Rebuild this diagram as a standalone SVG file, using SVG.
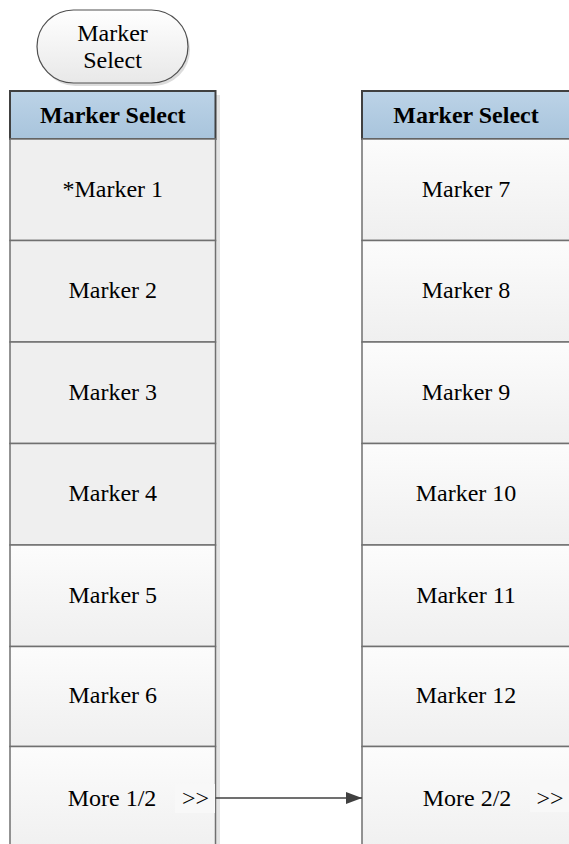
<svg xmlns="http://www.w3.org/2000/svg" width="569" height="844" viewBox="0 0 569 844">
<defs>
<linearGradient id="gHead" x1="0" y1="0" x2="0" y2="1"><stop offset="0" stop-color="#bcd3e7"/><stop offset="1" stop-color="#a8c4dc"/></linearGradient>
<linearGradient id="gCell" x1="0" y1="0" x2="0" y2="1"><stop offset="0" stop-color="#fcfcfc"/><stop offset="1" stop-color="#efefef"/></linearGradient>
<linearGradient id="gOval" x1="0" y1="0" x2="0" y2="1"><stop offset="0" stop-color="#ffffff"/><stop offset="1" stop-color="#e8e8e8"/></linearGradient>
<marker id="arr" viewBox="0 0 16 12" refX="16" refY="6" markerWidth="16" markerHeight="12" markerUnits="userSpaceOnUse" orient="auto"><path d="M0,0 L16,6 L0,12 Z" fill="#404040"/></marker>
</defs>
<style>
text{font-family:"Liberation Serif","Times New Roman",serif;font-size:24px;fill:#000;text-anchor:middle}
.b{font-weight:bold}
.head{fill:url(#gHead);stroke:#404040;stroke-width:2}
.flat{fill:#efefef;stroke:#707070;stroke-width:1.5}
.grad{fill:url(#gCell);stroke:#707070;stroke-width:1.5}
.shadow{fill:#e4e4e4}
.tag{fill:#f8f8f8}
.conn{stroke:#404040;stroke-width:1.5;fill:none}
</style>

<rect class="shadow" x="215" y="95" width="5" height="749"/>

<g id="start">
<rect x="39" y="13" width="151" height="73" rx="36.5" fill="#dcdcdc"/>
<rect x="37" y="10" width="151" height="73" rx="36.5" fill="url(#gOval)" stroke="#505050" stroke-width="1.2"/>
<text x="112.5" y="41">Marker</text>
<text x="112.5" y="68">Select</text>
</g>

<g id="left-header"><rect class="head" x="10" y="91" width="205.5" height="48"/><text class="b" x="112.8" y="123">Marker Select</text></g>
<g id="left-m1"><rect class="flat" x="10" y="139" width="205.5" height="101.5"/><text x="112.8" y="197">*Marker 1</text></g>
<g id="left-m2"><rect class="flat" x="10" y="240.5" width="205.5" height="101.5"/><text x="112.8" y="298">Marker 2</text></g>
<g id="left-m3"><rect class="flat" x="10" y="342" width="205.5" height="101.5"/><text x="112.8" y="400">Marker 3</text></g>
<g id="left-m4"><rect class="flat" x="10" y="443.5" width="205.5" height="101.5"/><text x="112.8" y="501">Marker 4</text></g>
<g id="left-m5"><rect class="grad" x="10" y="545" width="205.5" height="101.5"/><text x="112.8" y="603">Marker 5</text></g>
<g id="left-m6"><rect class="grad" x="10" y="646.5" width="205.5" height="100"/><text x="112.8" y="703">Marker 6</text></g>
<g id="left-more"><rect class="grad" x="10" y="746.5" width="205.5" height="110"/><rect class="tag" x="175" y="784" width="40" height="29"/><text x="112" y="806">More 1/2</text><text x="195.5" y="806">&gt;&gt;</text></g>

<g id="right-header"><rect class="head" x="362" y="91" width="208" height="48"/><text class="b" x="466" y="123">Marker Select</text></g>
<g id="right-m7"><rect class="grad" x="362" y="139" width="208" height="101.5"/><text x="466" y="197">Marker 7</text></g>
<g id="right-m8"><rect class="grad" x="362" y="240.5" width="208" height="101.5"/><text x="466" y="298">Marker 8</text></g>
<g id="right-m9"><rect class="grad" x="362" y="342" width="208" height="101.5"/><text x="466" y="400">Marker 9</text></g>
<g id="right-m10"><rect class="grad" x="362" y="443.5" width="208" height="101.5"/><text x="466" y="501">Marker 10</text></g>
<g id="right-m11"><rect class="grad" x="362" y="545" width="208" height="101.5"/><text x="466" y="603">Marker 11</text></g>
<g id="right-m12"><rect class="grad" x="362" y="646.5" width="208" height="100"/><text x="466" y="703">Marker 12</text></g>
<g id="right-more"><rect class="grad" x="362" y="746.5" width="208" height="110"/><rect class="tag" x="530" y="782" width="40" height="30"/><text x="467" y="806">More 2/2</text><text x="550" y="806">&gt;&gt;</text></g>

<g id="connectors">
<line class="conn" x1="215.5" y1="798" x2="362" y2="798" marker-end="url(#arr)"/>
</g>
</svg>
